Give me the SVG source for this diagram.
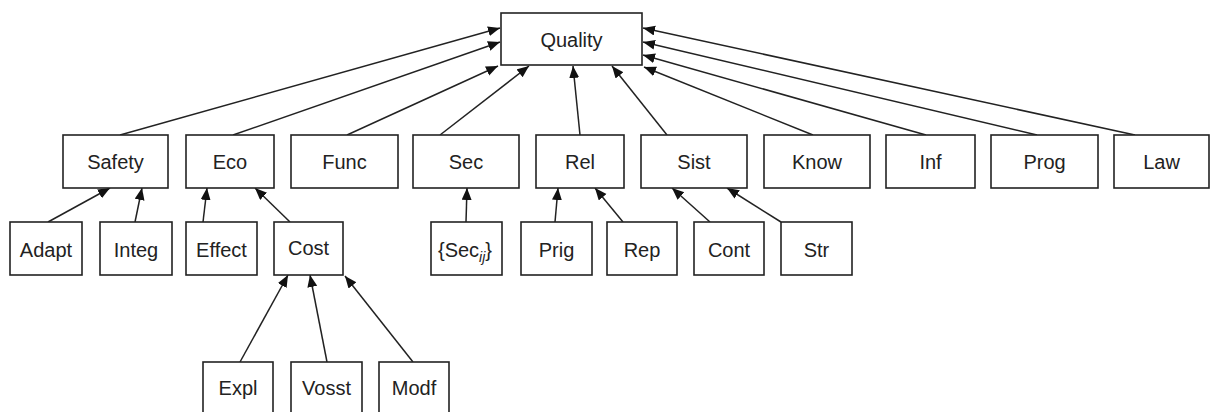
<svg xmlns="http://www.w3.org/2000/svg" width="1211" height="412" viewBox="0 0 1211 412">
<style>
rect{fill:#fff;stroke:#222;stroke-width:1.6}
text{font-family:"Liberation Sans",Arial,sans-serif;font-size:20px;fill:#222;text-anchor:middle}
.c line{stroke:#222;stroke-width:1.5;marker-end:url(#ah)}
</style>
<defs>
<marker id="ah" markerUnits="userSpaceOnUse" markerWidth="14" markerHeight="12" refX="12" refY="5" orient="auto">
<path d="M0,0 L12,5 L0,10 z" fill="#111"/>
</marker>
</defs>
<g class="c" id="connectors">
<line x1="120" y1="135" x2="500" y2="28"/>
<line x1="233" y1="135" x2="500" y2="42"/>
<line x1="347" y1="135" x2="498" y2="66"/>
<line x1="440" y1="135" x2="529" y2="66"/>
<line x1="580" y1="135" x2="573" y2="66"/>
<line x1="667" y1="135" x2="612" y2="66"/>
<line x1="813" y1="135" x2="644" y2="67"/>
<line x1="926" y1="135" x2="643" y2="55"/>
<line x1="1037" y1="135" x2="643" y2="42"/>
<line x1="1135" y1="135" x2="643" y2="28"/>
<line x1="48" y1="222" x2="110" y2="188"/>
<line x1="135" y1="222" x2="142" y2="188"/>
<line x1="203" y1="222" x2="207" y2="188"/>
<line x1="290" y1="222" x2="255" y2="188"/>
<line x1="466" y1="222" x2="467" y2="188"/>
<line x1="555" y1="222" x2="558" y2="188"/>
<line x1="623" y1="222" x2="595" y2="188"/>
<line x1="710" y1="222" x2="672" y2="188"/>
<line x1="781" y1="222" x2="727" y2="188"/>
<line x1="240" y1="362" x2="288" y2="275"/>
<line x1="327" y1="362" x2="310" y2="275"/>
<line x1="413" y1="362" x2="345" y2="276"/>
</g>
<g id="quality"><rect x="501" y="13" width="141" height="52"/><text x="571.5" y="47">Quality</text></g>
<g id="safety"><rect x="63" y="135" width="105" height="53"/><text x="115.5" y="169">Safety</text></g>
<g id="eco"><rect x="186" y="135" width="88" height="53"/><text x="230" y="169">Eco</text></g>
<g id="func"><rect x="291" y="135" width="107" height="53"/><text x="344.5" y="169">Func</text></g>
<g id="sec"><rect x="413" y="135" width="106" height="53"/><text x="466" y="169">Sec</text></g>
<g id="rel"><rect x="536" y="135" width="88" height="53"/><text x="580" y="169">Rel</text></g>
<g id="sist"><rect x="641" y="135" width="106" height="53"/><text x="694" y="169">Sist</text></g>
<g id="know"><rect x="764" y="135" width="106" height="53"/><text x="817" y="169">Know</text></g>
<g id="inf"><rect x="886" y="135" width="89" height="53"/><text x="930.5" y="169">Inf</text></g>
<g id="prog"><rect x="991" y="135" width="107" height="53"/><text x="1044.5" y="169">Prog</text></g>
<g id="law"><rect x="1114" y="135" width="95" height="53"/><text x="1161.5" y="169">Law</text></g>
<g id="adapt"><rect x="10" y="222" width="72" height="53"/><text x="46" y="257">Adapt</text></g>
<g id="integ"><rect x="100" y="222" width="72" height="53"/><text x="136" y="257">Integ</text></g>
<g id="effect"><rect x="186" y="222" width="71" height="53"/><text x="221.5" y="257">Effect</text></g>
<g id="cost"><rect x="274" y="222" width="69" height="53"/><text x="308.5" y="255">Cost</text></g>
<g id="secij"><rect x="431" y="222" width="71" height="53"/><text x="465" y="257">{Sec<tspan font-size="14" font-style="italic" dy="5">ij</tspan><tspan dy="-5">}</tspan></text></g>
<g id="prig"><rect x="521" y="222" width="71" height="53"/><text x="556.5" y="257">Prig</text></g>
<g id="rep"><rect x="607" y="222" width="70" height="53"/><text x="642" y="257">Rep</text></g>
<g id="cont"><rect x="694" y="222" width="70" height="53"/><text x="729" y="257">Cont</text></g>
<g id="str"><rect x="781" y="222" width="71" height="53"/><text x="816.5" y="257">Str</text></g>
<g id="expl"><rect x="203" y="362" width="70" height="55"/><text x="238" y="395">Expl</text></g>
<g id="vosst"><rect x="291" y="362" width="71" height="55"/><text x="326.5" y="395">Vosst</text></g>
<g id="modf"><rect x="379" y="362" width="70" height="55"/><text x="414" y="395">Modf</text></g>
</svg>
